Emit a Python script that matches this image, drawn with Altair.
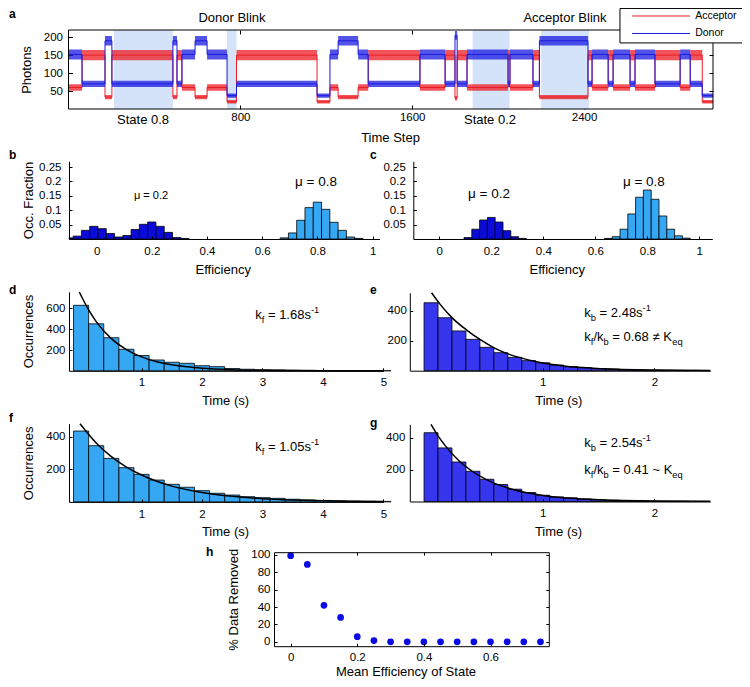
import altair as alt
import pandas as pd

W, H = 734, 671
FONT = "Liberation Sans"
RED, BLUE = "#ec1c24", "#1a1ae0"
SHADE = "#d4e3f9"
LIGHT, DARK, MID = "#36a7f3", "#0b0bd8", "#3636ee"

# ---------------- panel a: photon trace (dwell segments) ----------------
seg_start = [0, 63, 170, 202, 486, 505, 528, 589, 645, 738, 782, 1157, 1217, 1255, 1348,
             1395, 1636, 1753, 1799, 1809, 1855, 2046, 2055, 2162, 2192, 2418, 2437, 2512,
             2535, 2614, 2637, 2730, 2847, 2894, 2950]
seg_state = ["S2", "S8", "AB", "S8", "AB", "S8", "S2", "AB", "S2", "DB", "S8", "DB", "S2", "AB", "S2",
             "S8", "S2", "S8", "SP", "S8", "S2", "S8", "S2", "S8", "AB", "S8", "S2", "S8",
             "S2", "S8", "S2", "S8", "S2", "S8", "DB"]
trace_end = 3000
acceptor_level = {"S8": 150, "S2": 60, "AB": 33, "DB": 20, "SP": 30}
donor_level = {"S8": 70, "S2": 152, "AB": 190, "DB": 37, "SP": 205}
acceptor_spread = {"S8": 14, "S2": 9, "AB": 6, "DB": 5, "SP": 6}
donor_spread = {"S8": 9, "S2": 14, "AB": 13, "DB": 6, "SP": 12}
shade_start = [212, 738, 1881, 2200]
shade_end = [486, 782, 2053, 2423]
legend_names = ["Acceptor", "Donor"]

# ---------------- panels b, c: efficiency histograms ----------------
b_dark_center = [-0.10, -0.07, -0.04, -0.01, 0.02, 0.05, 0.08, 0.11, 0.14, 0.17, 0.20, 0.23, 0.26, 0.29, 0.32]
b_dark_frac = [0.004, 0.010, 0.030, 0.044, 0.036, 0.019, 0.007, 0.012, 0.033, 0.051, 0.059, 0.044, 0.023, 0.005, 0.002]
b_light_center = [0.68, 0.71, 0.74, 0.77, 0.80, 0.83, 0.86, 0.89, 0.92, 0.95]
b_light_frac = [0.004, 0.021, 0.065, 0.109, 0.128, 0.103, 0.058, 0.030, 0.007, 0.002]
c_dark_center = [0.11, 0.14, 0.17, 0.20, 0.23, 0.26, 0.29, 0.32]
c_dark_frac = [0.005, 0.034, 0.066, 0.075, 0.059, 0.029, 0.008, 0.002]
c_light_center = [0.65, 0.68, 0.71, 0.74, 0.77, 0.80, 0.83, 0.86, 0.89, 0.92, 0.95]
c_light_frac = [0.002, 0.008, 0.034, 0.087, 0.145, 0.170, 0.138, 0.080, 0.034, 0.011, 0.003]
hist_bin = 0.03

# ---------------- panels d-g: dwell time histograms ----------------
slow_time = [0, 0.25, 0.5, 0.75, 1, 1.25, 1.5, 1.75, 2, 2.25, 2.5, 2.75, 3, 3.25, 3.5, 3.75, 4, 4.25, 4.5, 4.75, 5]
slow_bin = 0.25
d_count = [630, 452, 318, 207, 147, 104, 82, 72, 49, 40, 22, 15, 10, 8, 5, 4, 3, 2, 2, 1, 1]
f_count = [435, 345, 267, 210, 169, 134, 108, 90, 69, 53, 42, 32, 26, 22, 16, 12, 9, 7, 5, 4, 3]
fast_time = [0, 0.125, 0.25, 0.375, 0.5, 0.625, 0.75, 0.875, 1, 1.125, 1.25, 1.375, 1.5, 1.625, 1.75, 1.875, 2, 2.125, 2.25]
fast_bin = 0.125
e_count = [453, 353, 265, 209, 156, 120, 89, 67, 53, 38, 27, 20, 14, 10, 7, 5, 3, 2, 1]
g_count = [430, 335, 247, 189, 139, 106, 77, 56, 39, 29, 23, 16, 11, 8, 5, 4, 2, 1, 1]

# fitted curves
d_fit_t = [-0.03, 0.125, 0.25, 0.5, 0.75, 1.0, 1.25, 1.5, 1.75, 2.0, 2.5, 3.0, 3.5, 4.0, 5.0]
d_fit_v = [758, 585, 473, 310, 204, 134, 88, 58, 38, 25, 11, 4.7, 2, 0.9, 0.2]
f_fit_t = [-0.018, 0.25, 0.5, 0.75, 1.0, 1.5, 2.0, 2.5, 3.0, 3.5, 4.0, 5.0]
f_fit_v = [480, 362, 278, 214, 165, 97, 58, 34, 20, 12, 7, 2.5]
e_fit_t = [0.005, 0.08, 0.194, 0.319, 0.445, 0.573, 0.70, 0.946, 1.19, 1.54, 2.0, 2.5]
e_fit_v = [520, 444, 349, 271, 205, 149, 109, 60, 31, 13, 4, 1]
g_fit_t = [0.0, 0.0625, 0.125, 0.25, 0.375, 0.5, 0.75, 1.0, 1.25, 1.5, 2.0, 2.5]
g_fit_v = [482, 410, 351, 255, 186, 135, 72, 38, 20, 11, 3, 1]

# ---------------- panel h ----------------
h_eff = [0, 0.05, 0.1, 0.15, 0.2, 0.25, 0.3, 0.35, 0.4, 0.45, 0.5, 0.55, 0.6, 0.65, 0.7, 0.75]
h_removed = [99, 89, 42, 28, 6, 1.5, 0, 0, 0, 0, 0, 0, 0, 0, 0, 0]

# ---------------- panel geometry (domain / pixel range) ----------------
P = {
    'a': dict(xd=[0, 3000], xr=[60.5, 705], yd=[0, 220], yr=[101, 22]),
    'b': dict(xd=[-0.1, 1.025], xr=[61, 371.5], yd=[0, 0.27], yr=[231, 153.3]),
    'c': dict(xd=[-0.1, 1.05], xr=[405.3, 704.3], yd=[0, 0.27], yr=[231, 153.3]),
    'd': dict(xd=[-0.2, 5], xr=[61, 375.4], yd=[0, 760], yr=[362.8, 283.8]),
    'e': dict(xd=[-0.19, 2.5], xr=[401.8, 702.3], yd=[0, 520], yr=[362.7, 284.7]),
    'f': dict(xd=[-0.2, 5], xr=[61, 375.4], yd=[0, 480], yr=[493.9, 415.7]),
    'g': dict(xd=[-0.19, 2.5], xr=[401.8, 702.3], yd=[0, 482], yr=[493.5, 416.4]),
    'h': dict(xd=[-0.05, 0.775], xr=[266, 540.8], yd=[-5, 103], yr=[638.2, 544.2]),
}


def sc(p, a):
    d = P[p]
    return alt.Scale(domain=d[a + 'd'], range=d[a + 'r'], nice=False, zero=False)


def X(field, p, axis=None):
    return alt.X(f"{field}:Q", scale=sc(p, 'x'), axis=axis)


def Y(field, p, axis=None):
    return alt.Y(f"{field}:Q", scale=sc(p, 'y'), axis=axis)


def base(z):
    return dict(grid=False, domainColor='black', tickColor='black', labelColor='black',
                labelFont=FONT, labelFontSize=11.5, labelFlush=False, labelOverlap=False,
                domainWidth=1, tickWidth=1, zindex=z)


def ax_lab(orient, p, values, fmt, pad, title='', tx=0, ty=0, domain=True, z=1):
    off = P[p]['yr'][0] - H if orient == 'bottom' else -P[p]['xr'][0]
    kw = dict(base(z), orient=orient, offset=off, values=values, format=fmt,
              tickSize=0, labelPadding=pad, domain=domain)
    if title:
        kw.update(title=title, titleX=tx, titleY=ty, titleFont=FONT, titleFontSize=13,
                  titleFontWeight='normal', titleColor='black', titleAlign='center',
                  titleBaseline='middle', titleAngle=270 if orient == 'left' else 0)
    else:
        kw.update(title='')
    return alt.Axis(**kw)


def ax_tick(orient, pos, values, size=3, domain=False, z=1):
    if orient in ('top', 'left'):
        off = -pos
    elif orient == 'bottom':
        off = pos - H
    else:
        off = pos - W
    return alt.Axis(**dict(base(z), orient=orient, offset=off, values=values, tickSize=size,
                           labels=False, domain=domain, title=''))


AW = {'.': .278, ' ': .278, '=': .584, 'k': .5, 'f': .278, 'b': .556, '/': .278, 's': .5,
      '-': .333, 'K': .667, 'e': .556, 'q': .556, '\u2260': .584, '~': .584}


def txt(p, x, y, s, size=13, align='center', weight='normal'):
    df = pd.DataFrame({'x': [x], 'y': [y]})
    return alt.Chart(df).mark_text(text=s, font=FONT, fontSize=size, align=align, baseline='middle',
                                   fontWeight=weight, color='black').encode(x=X('x', p), y=Y('y', p))


def rich(p, x, y, frags, size=13):
    out, dx = [], 0.0
    df = pd.DataFrame({'x': [x], 'y': [y]})
    for s, kind in frags:
        fs = size if kind == 'n' else size * 0.72
        dy = {'n': 0, 'sub': 5, 'sup': -5}[kind]
        body = s.lstrip(' ')
        dx += (len(s) - len(body)) * AW[' '] * fs
        out.append(alt.Chart(df).mark_text(text=body, font=FONT, fontSize=fs, align='left', baseline='middle',
                                           dx=dx, dy=dy, color='black').encode(x=X('x', p), y=Y('y', p)))
        dx += sum(AW.get(c, .556) for c in body) * fs
    return out


def bars(p, centers, values, width, color, xaxis=None, yaxis=None):
    lo = P[p]['xd'][0]
    df = pd.DataFrame({'x0': [max(c - width / 2, lo) for c in centers],
                       'x1': [c + width / 2 for c in centers],
                       'v': values, 'z': [0] * len(values)})
    return alt.Chart(df).mark_bar(color=color, stroke='black', strokeWidth=0.8).encode(
        x=X('x0', p, xaxis), x2='x1', y=Y('v', p, yaxis), y2='z')


def curve(p, ts, vs, xaxis=None, yaxis=None):
    df = pd.DataFrame({'t': ts, 'v': vs})
    return alt.Chart(df).mark_line(color='black', strokeWidth=1.5, interpolate='monotone').encode(
        x=X('t', p, xaxis), y=Y('v', p, yaxis))


layers = []

# ======== panel a ========
ya0, ya1 = P['a']['yd']
shade_df = pd.DataFrame({'s': shade_start, 'e': shade_end,
                         'lo': [ya0] * len(shade_start), 'hi': [ya1] * len(shade_start)})
layers.append(alt.Chart(shade_df).mark_rect(color=SHADE).encode(
    x=X('s', 'a'), x2='e', y=Y('lo', 'a'), y2='hi'))

rows = []
for s, st in zip(seg_start + [trace_end], seg_state + [seg_state[-1]]):
    for name, lev, spr in (("Acceptor", acceptor_level, acceptor_spread),
                           ("Donor", donor_level, donor_spread)):
        rows.append(dict(t=s, series=name, lvl=lev[st], lo=lev[st] - spr[st], hi=lev[st] + spr[st]))
tr = pd.DataFrame(rows)
acc = tr[tr.series == "Acceptor"]
don = tr[tr.series == "Donor"]

a_xlab = ax_lab('bottom', 'a', [800, 1600, 2400], 'd', 2.7, 'Time Step', 382, 28, domain=False, z=0)
a_ylab = ax_lab('left', 'a', [50, 100, 150, 200], 'd', 6, 'Photons', -42.5, 61.5, domain=False, z=0)
layers.append(alt.Chart(acc).mark_area(interpolate='step-after', color=RED, opacity=0.75).encode(
    x=X('t', 'a'), y=Y('lo', 'a'), y2='hi'))
layers.append(alt.Chart(acc).mark_line(interpolate='step-after', color=RED, strokeWidth=1).encode(
    x=X('t', 'a', a_xlab), y=Y('lvl', 'a', a_ylab)))
layers.append(alt.Chart(don).mark_area(interpolate='step-after', color=BLUE, opacity=0.75).encode(
    x=X('t', 'a'), y=Y('lo', 'a'), y2='hi'))
layers.append(alt.Chart(don).mark_line(interpolate='step-after', color=BLUE, strokeWidth=1).encode(
    x=X('t', 'a', ax_tick('top', 101, [800, 1600, 2400], 4, z=0)),
    y=Y('lvl', 'a', ax_tick('right', 60.5, [50, 100, 150, 200], 4, z=0))))
box_a = pd.DataFrame({'x0': [P['a']['xd'][0]], 'x1': [P['a']['xd'][1]], 'y0': [ya0], 'y1': [ya1]})
layers.append(alt.Chart(box_a).mark_rect(filled=False, color='black', strokeWidth=1).encode(
    x=X('x0', 'a', ax_tick('bottom', 22, [800, 1600, 2400], 4, z=0)), x2='x1',
    y=Y('y0', 'a', ax_tick('left', 705, [50, 100, 150, 200], 4, z=0)), y2='y1'))
layers += [
    txt('a', 761, 253.5, 'Donor Blink', 13),
    txt('a', 2311, 253.5, 'Acceptor Blink', 13),
    txt('a', 347, -30.6, 'State 0.8', 13),
    txt('a', 1962, -30.6, 'State 0.2', 13),
    txt('a', -277, 264, 'a', 12, 'left', 'bold'),
]
# legend box
leg_box = pd.DataFrame({'x0': [2567], 'x1': [3180], 'y0': [184], 'y1': [280]})
layers.append(alt.Chart(leg_box).mark_rect(fill='white', stroke='black', strokeWidth=1).encode(
    x=X('x0', 'a'), x2='x1', y=Y('y0', 'a'), y2='y1'))
leg_df = pd.DataFrame({'name': legend_names, 'col': [RED, BLUE], 'x0': [2623, 2623],
                       'x1': [2893, 2893], 'y': [259, 210.3], 'tx': [2917, 2917]})
layers.append(alt.Chart(leg_df).mark_rule(strokeWidth=1).encode(
    x=X('x0', 'a'), x2='x1', y=Y('y', 'a'), color=alt.Color('col:N', scale=None)))
layers.append(alt.Chart(leg_df).mark_text(align='left', baseline='middle', fontSize=10.5, font=FONT,
                                          color='black').encode(
    x=X('tx', 'a'), y=Y('y', 'a'), text='name:N'))

# ======== panels b, c ========
eff_ticks = [0, 0.2, 0.4, 0.6, 0.8, 1]
frac_ticks = [0.05, 0.1, 0.15, 0.2, 0.25]
layers.append(bars('b', b_dark_center, b_dark_frac, hist_bin, DARK,
                   ax_lab('bottom', 'b', eff_ticks, '~g', 6, 'Efficiency', 214.7, 30.3),
                   ax_lab('left', 'b', frac_ticks, '~g', 8, 'Occ. Fraction', -40.7, 192)))
layers.append(bars('b', b_light_center, b_light_frac, hist_bin, LIGHT,
                   ax_tick('top', 231, eff_ticks), ax_tick('right', 61, frac_ticks)))
layers += [txt('b', 0.197, 0.149, '\u03bc = 0.2', 11), txt('b', 0.795, 0.199, '\u03bc = 0.8', 13.5),
           txt('b', -0.317, 0.2917, 'b', 12, 'left', 'bold')]

layers.append(bars('c', c_dark_center, c_dark_frac, hist_bin, DARK,
                   ax_lab('bottom', 'c', eff_ticks, '~g', 6, 'Efficiency', 548.7, 30.3),
                   ax_lab('left', 'c', frac_ticks, '~g', 8)))
layers.append(bars('c', c_light_center, c_light_frac, hist_bin, LIGHT,
                   ax_tick('top', 231, eff_ticks), ax_tick('right', 405.3, frac_ticks)))
layers += [txt('c', 0.191, 0.156, '\u03bc = 0.2', 13.5), txt('c', 0.787, 0.199, '\u03bc = 0.8', 13.5),
           txt('c', -0.2665, 0.2917, 'c', 12, 'left', 'bold')]

# ======== panels d-g ========
slow_ticks = [1, 2, 3, 4, 5]
fast_ticks = [1, 2]
layers.append(bars('d', slow_time, d_count, slow_bin, LIGHT,
                   ax_lab('bottom', 'd', slow_ticks, 'd', 6, 'Time (s)', 217, 29.2),
                   ax_lab('left', 'd', [200, 400, 600], 'd', 4, 'Occurrences', -40.7, 323)))
layers.append(curve('d', d_fit_t, d_fit_v, ax_tick('top', 362.8, slow_ticks), ax_tick('right', 61, [200, 400, 600])))
layers += rich('d', 2.88, 536.5, [('k', 'n'), ('f', 'sub'), (' = 1.68s', 'n'), ('-1', 'sup')])
layers.append(txt('d', -1.193, 777, 'd', 12, 'left', 'bold'))

layers.append(bars('e', fast_time, e_count, fast_bin, MID,
                   ax_lab('bottom', 'e', fast_ticks, 'd', 6, 'Time (s)', 550.3, 29.3),
                   ax_lab('left', 'e', [200, 400], 'd', 3.5)))
layers.append(curve('e', e_fit_t, e_fit_v, ax_tick('top', 362.7, fast_ticks), ax_tick('right', 401.8, [200, 400])))
layers += rich('e', 1.372, 382.7, [('k', 'n'), ('b', 'sub'), (' = 2.48s', 'n'), ('-1', 'sup')])
layers += rich('e', 1.372, 222.7, [('k', 'n'), ('f', 'sub'), ('/k', 'n'), ('b', 'sub'),
                                   (' = 0.68 \u2260 K', 'n'), ('eq', 'sub')])
layers.append(txt('e', -0.546, 538, 'e', 12, 'left', 'bold'))

layers.append(bars('f', slow_time, f_count, slow_bin, LIGHT,
                   ax_lab('bottom', 'f', slow_ticks, 'd', 6.5, 'Time (s)', 217, 29.1),
                   ax_lab('left', 'f', [200, 400], 'd', 4, 'Occurrences', -40.7, 454.8)))
layers.append(curve('f', f_fit_t, f_fit_v, ax_tick('top', 493.9, slow_ticks), ax_tick('right', 61, [200, 400])))
layers += rich('f', 2.88, 338.7, [('k', 'n'), ('f', 'sub'), (' = 1.05s', 'n'), ('-1', 'sup')])
layers.append(txt('f', -1.193, 513, 'f', 12, 'left', 'bold'))

layers.append(bars('g', fast_time, g_count, fast_bin, MID,
                   ax_lab('bottom', 'g', fast_ticks, 'd', 6, 'Time (s)', 550, 29.5),
                   ax_lab('left', 'g', [200, 400], 'd', 5)))
layers.append(curve('g', g_fit_t, g_fit_v, ax_tick('top', 493.5, fast_ticks), ax_tick('right', 401.8, [200, 400])))
layers += rich('g', 1.372, 367.5, [('k', 'n'), ('b', 'sub'), (' = 2.54s', 'n'), ('-1', 'sup')])
layers += rich('g', 1.372, 197, [('k', 'n'), ('f', 'sub'), ('/k', 'n'), ('b', 'sub'),
                                 (' = 0.41 ~ K', 'n'), ('eq', 'sub')])
layers.append(txt('g', -0.546, 489, 'g', 12, 'left', 'bold'))

# ======== panel h ========
hx_ticks = [0, 0.2, 0.4, 0.6]
hy_ticks = [0, 20, 40, 60, 80, 100]
h_df = pd.DataFrame({'e': h_eff, 'r': h_removed})
h_bottom, h_top = P['h']['yr']
layers.append(alt.Chart(h_df).mark_point(filled=True, color='#0b0be3', size=45, opacity=1).encode(
    x=X('e', 'h', ax_lab('bottom', 'h', hx_ticks, '~g', 5, 'Mean Efficiency of State', 397.5, 24.8)),
    y=Y('r', 'h', ax_lab('left', 'h', hy_ticks, 'd', 4, '% Data Removed', -41, (h_bottom + h_top) / 2))))
frame_h = pd.DataFrame({'e': [P['h']['xd'][0]], 'r': [P['h']['yd'][0]]})
layers.append(alt.Chart(frame_h).mark_point(opacity=0).encode(
    x=X('e', 'h', ax_tick('top', h_bottom, hx_ticks)), y=Y('r', 'h', ax_tick('right', 266, hy_ticks))))
layers.append(alt.Chart(frame_h).mark_point(opacity=0).encode(
    x=X('e', 'h', ax_tick('bottom', h_top, hx_ticks, domain=True)),
    y=Y('r', 'h', ax_tick('left', 540.8, hy_ticks, domain=True))))
layers.append(txt('h', -0.254, 103.5, 'h', 12, 'left', 'bold'))

chart = alt.layer(*layers).resolve_scale(x='independent', y='independent').properties(
    width=W, height=H, padding=0, autosize=alt.AutoSizeParams(type='none')
).configure(font=FONT).configure_view(strokeWidth=0)

chart.save("out.html", embed_options={"renderer": "svg", "actions": False})
